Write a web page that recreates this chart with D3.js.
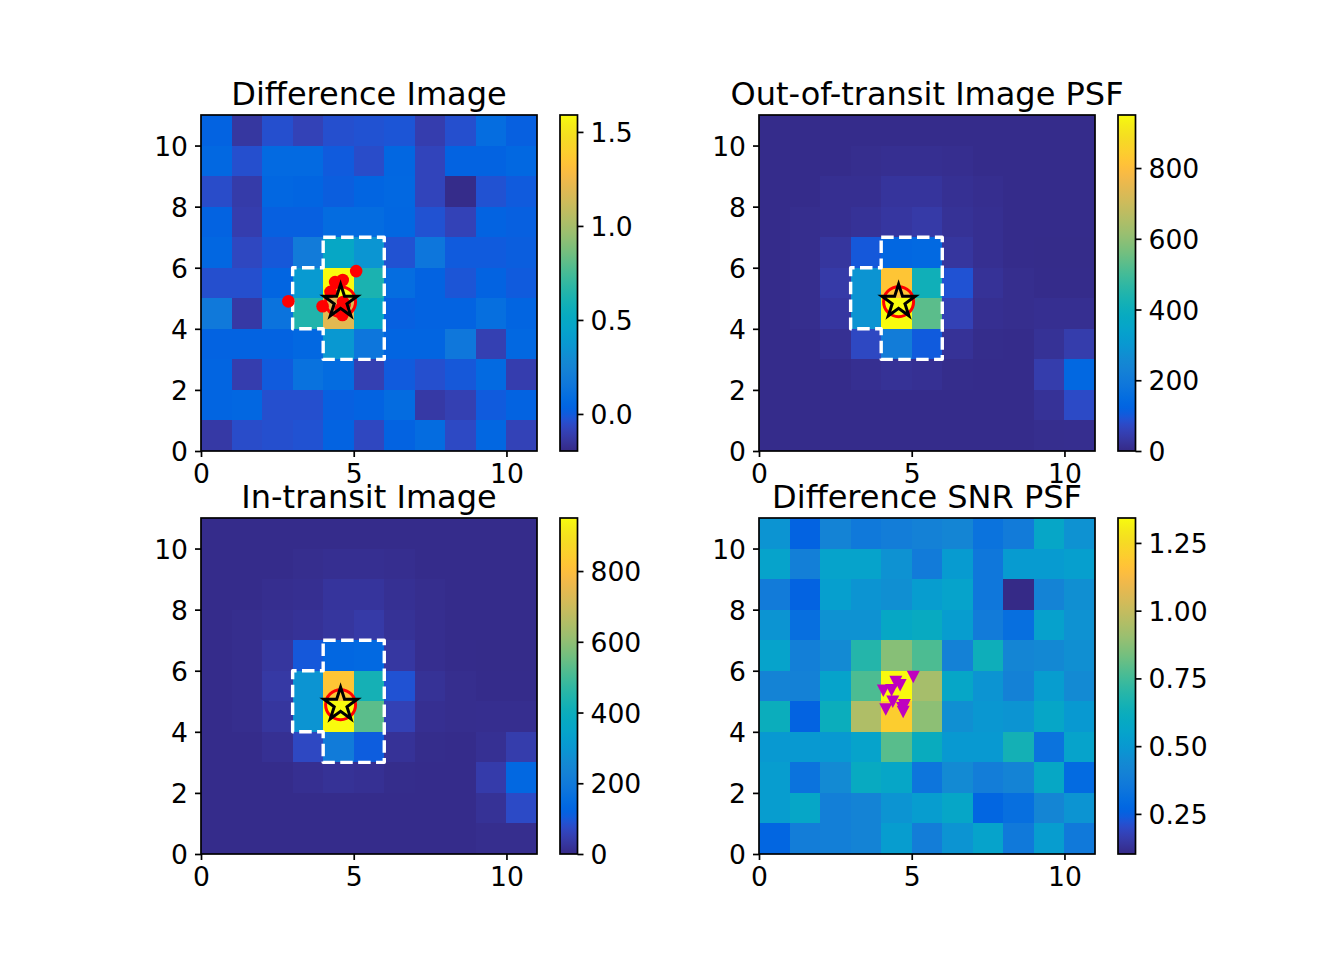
<!DOCTYPE html>
<html>
<head>
<meta charset="utf-8">
<style>
  html, body { margin: 0; padding: 0; background: #fff; }
  text { font-family: "DejaVu Sans", sans-serif; fill: #000; }
  .tick text { font-size: 26.6px; font-family: "DejaVu Sans", sans-serif; }
  .title { font-size: 32px; text-anchor: middle; }
</style>
<script src="https://cdn.jsdelivr.net/npm/d3@7"></script>
</head>
<body>
<div id="chart"></div>
<script>
// grids are listed top row first (y = 10..11), left column first
const differenceImage = [
  [0.03, -0.14, -0.04, -0.09, -0.04, -0.03, -0.02, -0.11, -0.04, 0.09, 0.02],
  [0.06, -0.04, 0.07, 0.07, 0.00, -0.05, 0.05, -0.08, 0.03, 0.03, 0.06],
  [-0.05, -0.12, 0.05, 0.04, 0.01, 0.04, 0.06, -0.08, -0.19, -0.03, 0.00],
  [0.03, -0.11, 0.02, 0.02, 0.08, 0.08, 0.05, -0.03, -0.09, 0.03, 0.02],
  [0.05, -0.07, -0.01, 0.19, 0.49, 0.35, -0.03, 0.15, 0.00, 0.00, 0.01],
  [-0.04, -0.04, 0.04, 0.38, 1.59, 0.62, 0.09, 0.03, -0.02, 0.03, 0.00],
  [0.17, -0.13, 0.13, 0.64, 1.20, 0.49, 0.02, 0.03, 0.03, 0.10, 0.04],
  [0.03, 0.03, 0.03, 0.06, 0.37, 0.15, 0.04, 0.04, 0.16, -0.10, 0.06],
  [0.04, -0.11, 0.00, 0.12, 0.08, -0.10, 0.00, -0.04, -0.01, 0.07, -0.11],
  [0.04, 0.05, -0.04, -0.04, 0.02, 0.03, 0.08, -0.13, -0.10, 0.00, 0.03],
  [-0.13, -0.05, -0.04, -0.03, 0.03, -0.07, 0.03, 0.08, -0.06, 0.05, -0.09],
]
const outOfTransitImage = [
  [5, 5, 5, 5, 5, 5, 5, 5, 5, 5, 5],
  [5, 5, 5, 8, 12, 12, 10, 5, 5, 5, 5],
  [5, 5, 12, 12, 25, 25, 15, 10, 5, 5, 5],
  [5, 8, 12, 20, 30, 38, 18, 12, 5, 5, 5],
  [5, 8, 28, 100, 133, 140, 28, 12, 5, 4, 4],
  [5, 8, 38, 290, 820, 410, 90, 20, 8, 5, 5],
  [5, 8, 30, 290, 950, 530, 55, 12, 8, 12, 12],
  [5, 5, 15, 70, 210, 105, 20, 6, 5, 18, 45],
  [5, 5, 5, 12, 18, 15, 6, 5, 5, 45, 135],
  [5, 5, 5, 5, 5, 5, 5, 5, 5, 20, 75],
  [5, 5, 5, 5, 5, 5, 5, 5, 5, 8, 10],
]
const inTransitImage = [
  [5, 5, 5, 5, 5, 5, 5, 5, 5, 5, 5],
  [5, 5, 5, 8, 12, 12, 10, 5, 5, 5, 5],
  [5, 5, 10, 12, 25, 25, 15, 8, 5, 5, 5],
  [5, 8, 14, 20, 28, 38, 18, 10, 5, 5, 5],
  [5, 8, 28, 100, 133, 140, 32, 10, 5, 4, 4],
  [5, 8, 35, 290, 820, 420, 90, 18, 8, 5, 5],
  [5, 8, 28, 290, 950, 530, 55, 12, 8, 10, 10],
  [5, 5, 15, 70, 205, 108, 20, 6, 5, 15, 45],
  [5, 5, 5, 12, 18, 15, 6, 5, 5, 42, 135],
  [5, 5, 5, 5, 5, 5, 5, 5, 5, 18, 75],
  [5, 5, 5, 5, 5, 5, 5, 5, 5, 8, 8],
]
const differenceSnr = [
  [0.48, 0.26, 0.41, 0.36, 0.38, 0.40, 0.42, 0.33, 0.37, 0.57, 0.47],
  [0.55, 0.39, 0.55, 0.55, 0.47, 0.37, 0.51, 0.35, 0.51, 0.51, 0.53],
  [0.37, 0.26, 0.53, 0.48, 0.46, 0.52, 0.55, 0.35, 0.10, 0.41, 0.46],
  [0.48, 0.31, 0.47, 0.47, 0.58, 0.60, 0.52, 0.37, 0.31, 0.54, 0.47],
  [0.55, 0.39, 0.44, 0.69, 0.87, 0.77, 0.40, 0.63, 0.42, 0.43, 0.46],
  [0.41, 0.40, 0.55, 0.77, 1.34, 0.93, 0.57, 0.48, 0.40, 0.52, 0.44],
  [0.62, 0.26, 0.62, 0.95, 1.20, 0.88, 0.46, 0.49, 0.48, 0.57, 0.50],
  [0.50, 0.50, 0.50, 0.55, 0.79, 0.61, 0.50, 0.50, 0.65, 0.33, 0.55],
  [0.52, 0.33, 0.44, 0.60, 0.57, 0.34, 0.44, 0.38, 0.41, 0.58, 0.29],
  [0.52, 0.57, 0.39, 0.41, 0.48, 0.52, 0.57, 0.27, 0.31, 0.42, 0.48],
  [0.27, 0.38, 0.39, 0.41, 0.52, 0.38, 0.48, 0.55, 0.36, 0.52, 0.36],
]

const apertureOutline = [[4, 7], [6, 7], [6, 3], [4, 3], [4, 4], [3, 4], [3, 6], [4, 6], [4, 7]]
const catalogStar = [4.57, 4.89]
const centroidsDifference = [
  [2.86, 4.90], [5.08, 5.89], [3.98, 4.74], [4.39, 5.53], [4.64, 5.60],
  [4.24, 5.21], [4.63, 4.45], [4.65, 4.88], [4.57, 4.65], [4.70, 4.78],
]
const centroidsSnr = [
  [5.05, 5.80], [4.48, 5.64], [4.62, 5.53], [4.07, 5.35], [4.34, 5.37],
  [4.38, 4.99], [4.15, 4.74], [4.76, 4.88], [4.72, 4.66], [4.70, 4.78],
]

const xTicks = [0, 5, 10]
const yTicks = [0, 2, 4, 6, 8, 10]
const parulaColors = [
  [.2081, .1663, .5292], [.2116, .1898, .5777], [.2123, .2138, .6270], [.2081, .2386, .6771],
  [.1959, .2645, .7279], [.1707, .2919, .7792], [.1253, .3242, .8303], [.0591, .3598, .8683],
  [.0117, .3875, .8820], [.0060, .4086, .8828], [.0165, .4266, .8786], [.0329, .4430, .8720],
  [.0498, .4586, .8641], [.0629, .4737, .8554], [.0723, .4887, .8467], [.0779, .5040, .8384],
  [.0793, .5200, .8312], [.0749, .5375, .8263], [.0641, .5570, .8240], [.0488, .5772, .8228],
  [.0343, .5966, .8199], [.0265, .6137, .8135], [.0239, .6287, .8038], [.0231, .6418, .7913],
  [.0228, .6535, .7768], [.0267, .6642, .7607], [.0384, .6743, .7436], [.0590, .6838, .7254],
  [.0843, .6928, .7062], [.1133, .7015, .6859], [.1453, .7098, .6646], [.1801, .7177, .6424],
  [.2178, .7250, .6193], [.2586, .7317, .5954], [.3022, .7376, .5712], [.3482, .7424, .5473],
  [.3953, .7459, .5244], [.4420, .7481, .5033], [.4871, .7491, .4840], [.5300, .7491, .4661],
  [.5709, .7485, .4494], [.6099, .7473, .4337], [.6473, .7456, .4188], [.6834, .7435, .4044],
  [.7184, .7411, .3905], [.7525, .7384, .3768], [.7858, .7356, .3633], [.8185, .7327, .3498],
  [.8507, .7299, .3360], [.8824, .7274, .3217], [.9139, .7258, .3063], [.9450, .7261, .2886],
  [.9739, .7314, .2666], [.9938, .7455, .2403], [.9990, .7653, .2164], [.9955, .7861, .1967],
  [.9880, .8066, .1794], [.9789, .8271, .1633], [.9697, .8481, .1475], [.9626, .8705, .1309],
  [.9589, .8949, .1132], [.9598, .9218, .0948], [.9661, .9514, .0755], [.9763, .9831, .0538],
]

const panels = [
  { title: 'Difference Image', grid: differenceImage, domain: [-0.197, 1.59], ticks: [0, 0.5, 1, 1.5], format: '.1f', left: 201, top: 115, aperture: true, star: true, dots: centroidsDifference },
  { title: 'Out-of-transit Image PSF', grid: outOfTransitImage, domain: [0, 950], ticks: [0, 200, 400, 600, 800], format: 'd', left: 759, top: 115, aperture: true, star: true },
  { title: 'In-transit Image', grid: inTransitImage, domain: [0, 950], ticks: [0, 200, 400, 600, 800], format: 'd', left: 201, top: 518, aperture: true, star: true },
  { title: 'Difference SNR PSF', grid: differenceSnr, domain: [0.102, 1.342], ticks: [0.25, 0.5, 0.75, 1, 1.25], format: '.2f', left: 759, top: 518, triangles: centroidsSnr },
]

const SIZE = Object.freeze({ WIDTH: 1320, HEIGHT: 960, AXES: 336, BAR_GAP: 23, BAR_WIDTH: 17.5 })

const parula = d3.piecewise(d3.interpolateRgb, parulaColors.map(c => d3.rgb(c[0] * 255, c[1] * 255, c[2] * 255)))

const starPath = (r) => {
  const pts = d3.range(10).map(i => {
    const rad = i % 2 === 0 ? r : r * 0.381966
    const a = i * Math.PI / 5
    return [rad * Math.sin(a), -rad * Math.cos(a)]
  })
  return 'M' + pts.join('L') + 'Z'
}

const svg = d3.select('#chart')
  .append('svg')
  .attr('width', SIZE.WIDTH)
  .attr('height', SIZE.HEIGHT)
  .style('display', 'block')

const gradient = svg.append('defs').append('linearGradient')
  .attr('id', 'parula')
  .attr('x1', 0).attr('y1', 1).attr('x2', 0).attr('y2', 0)
gradient.selectAll('stop')
  .data(d3.range(parulaColors.length))
  .enter()
  .append('stop')
  .attr('offset', i => i / (parulaColors.length - 1))
  .attr('stop-color', i => parula(i / (parulaColors.length - 1)))

const drawAxes = (g, x, y) => {
  const xAxis = d3.axisBottom(x).tickValues(xTicks).tickSize(6).tickPadding(7)
  const yAxis = d3.axisLeft(y).tickValues(yTicks).tickSize(6).tickPadding(7)
  const xg = g.append('g').attr('transform', `translate(0, ${SIZE.AXES})`).call(xAxis)
  const yg = g.append('g').call(yAxis)
  xg.select('.domain').remove()
  yg.select('.domain').remove()
  yg.selectAll('.tick text').attr('dy', '0.36em')
  g.selectAll('.tick line').attr('stroke-width', 1.7)
  g.append('rect')
    .attr('width', SIZE.AXES)
    .attr('height', SIZE.AXES)
    .attr('fill', 'none')
    .attr('stroke', '#000')
    .attr('stroke-width', 1.7)
}

const buildPanel = (panel) => {
  const x = d3.scaleLinear().domain([0, 11]).range([0, SIZE.AXES])
  const y = d3.scaleLinear().domain([0, 11]).range([SIZE.AXES, 0])
  const color = d3.scaleSequential(parula).domain(panel.domain).clamp(true)

  const g = svg.append('g').attr('transform', `translate(${panel.left}, ${panel.top})`)

  panel.grid.forEach((row, r) => {
    g.append('g')
      .attr('shape-rendering', 'crispEdges')
      .selectAll('rect')
      .data(row)
      .enter()
      .append('rect')
      .attr('x', (d, c) => x(c))
      .attr('y', y(11 - r))
      .attr('width', (d, c) => x(c + 1) - x(c))
      .attr('height', y(10 - r) - y(11 - r))
      .attr('fill', d => color(d))
  })

  if (panel.aperture) {
    g.append('path')
      .attr('d', d3.line().x(d => x(d[0])).y(d => y(d[1]))(apertureOutline))
      .attr('fill', 'none')
      .attr('stroke', '#fff')
      .attr('stroke-width', 3.4)
      .attr('stroke-dasharray', '12.5 5.4')
      .attr('stroke-linejoin', 'round')
  }

  if (panel.dots) {
    g.selectAll('circle.centroid')
      .data(panel.dots)
      .enter()
      .append('circle')
      .attr('class', 'centroid')
      .attr('cx', d => x(d[0]))
      .attr('cy', d => y(d[1]))
      .attr('r', 6.3)
      .attr('fill', '#f00')
  }

  if (panel.triangles) {
    g.selectAll('path.centroid')
      .data(panel.triangles)
      .enter()
      .append('path')
      .attr('class', 'centroid')
      .attr('transform', d => `translate(${x(d[0])}, ${y(d[1])})`)
      .attr('d', 'M-6.5,-6L6.5,-6L0,6.5Z')
      .attr('fill', '#bf00bf')
  }

  if (panel.star) {
    g.append('circle')
      .attr('cx', x(catalogStar[0]))
      .attr('cy', y(catalogStar[1]))
      .attr('r', 15)
      .attr('fill', 'none')
      .attr('stroke', '#f00')
      .attr('stroke-width', 3)
    g.append('path')
      .attr('transform', `translate(${x(catalogStar[0])}, ${y(catalogStar[1])})`)
      .attr('d', starPath(17.5))
      .attr('fill', 'none')
      .attr('stroke', '#000')
      .attr('stroke-width', 3)
      .attr('stroke-linejoin', 'miter')
  }

  drawAxes(g, x, y)

  g.append('text')
    .attr('class', 'title')
    .attr('x', SIZE.AXES / 2)
    .attr('y', -10)
    .text(panel.title)

  // colour bar to the right of the image
  const bar = g.append('g').attr('transform', `translate(${SIZE.AXES + SIZE.BAR_GAP}, 0)`)
  const barScale = d3.scaleLinear().domain(panel.domain).range([SIZE.AXES, 0])
  bar.append('rect')
    .attr('width', SIZE.BAR_WIDTH)
    .attr('height', SIZE.AXES)
    .attr('fill', 'url(#parula)')
    .attr('stroke', '#000')
    .attr('stroke-width', 1.7)
  const barAxis = d3.axisRight(barScale)
    .tickValues(panel.ticks)
    .tickFormat(d3.format(panel.format))
    .tickSize(6)
    .tickPadding(7)
  const barG = bar.append('g').attr('transform', `translate(${SIZE.BAR_WIDTH}, 0)`).call(barAxis)
  barG.select('.domain').remove()
  barG.selectAll('.tick text').attr('dy', '0.36em')
  barG.selectAll('.tick line').attr('stroke-width', 1.7)
}

panels.forEach(buildPanel)
</script>
</body>
</html>
